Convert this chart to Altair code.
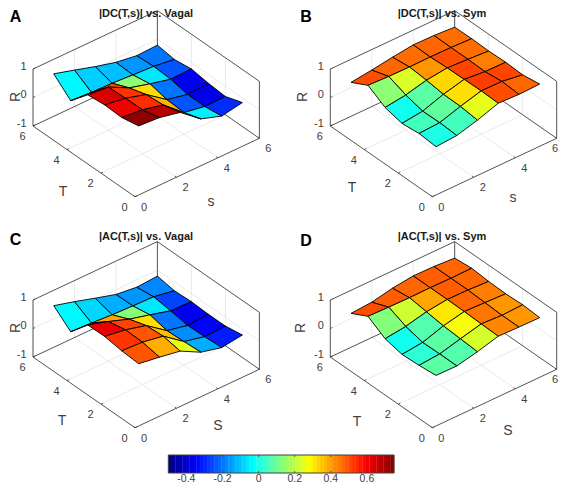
import altair as alt

# Surface values R[T-1][s-1], T and s run 1..6
R_A = [[.73,.68,.52,-.05,-.29,-.16],[.61,.54,.37,-.24,-.37,-.36],[.64,.53,.32,-.2,-.36,-.31],
       [.58,.51,.14,-.06,-.24,-.22],[-.04,-.09,-.11,-.16,-.2,-.30],[.49,.28,.06,-.13,-.24,-.21]]
R_B = [[0,.05,.25,.5,.47,.49],[.05,.09,.32,.52,.51,.40],[-.01,.08,.33,.51,.44,.43],
       [.14,.235,.41,.5,.46,.41],[.5,.47,.46,.47,.46,.43],[.19,.28,.39,.48,.47,.42]]
R_C = [[.49,.38,.25,-.13,-.31,-.21],[.53,.49,.36,-.17,-.34,-.31],[.62,.51,.32,-.2,-.36,-.31],
       [.61,.39,.13,-.06,-.26,-.28],[-.04,-.08,-.13,-.16,-.18,-.31],[.46,.26,.04,-.17,-.26,-.21]]
R_D = [[.08,.07,.23,.43,.41,.40],[.02,.08,.27,.45,.41,.44],[-.01,.07,.31,.47,.44,.41],
       [.13,.22,.39,.48,.47,.43],[.5,.48,.47,.48,.47,.48],[.19,.24,.39,.48,.47,.42]]

titles = ["|DC(T,s)| vs. Vagal", "|DC(T,s)| vs. Sym", "|AC(T,s)| vs. Vagal", "|AC(T,s)| vs. Sym"]
letters = ["A", "B", "C", "D"]
surfaces = [R_A, R_B, R_C, R_D]
origins = [(135, 196.7), (432.3, 196.7), (135, 427.7), (432.3, 427.7)]
letter_pos = [(15.5, 17), (306, 17), (15.5, 240), (306, 241)]
title_pos = [(146, 13.5), (442, 13.5), (146, 237), (442, 237)]
t_title_pos = [(63, 192), (352, 188), (62, 421), (357, 422)]
s_title_pos = [(211, 202), (513, 198), (218, 426), (508, 431)]
r_title_pos = [(16, 97), (303, 97), (16, 328), (301, 328)]
s_names = ["s", "s", "S", "S"]

axis_ticks = [0, 2, 4, 6]
r_ticks = [-1, 0, 1]
cb_ticks = [-0.4, -0.2, 0, 0.2, 0.4, 0.6]
cb_labels = ["-0.4", "-0.2", "0", "0.2", "0.4", "0.6"]
C_MIN, C_MAX = -0.5, 0.75
CB_X0, CB_X1, CB_Y0, CB_Y1 = 168.3, 394.0, 455.0, 473.0
jet_stops = [0, .125, .375, .625, .875, 1]
jet_colors = ["#00007f", "#0000ff", "#00ffff", "#ffff00", "#ff0000", "#7f0000"]
color_scale = alt.Scale(domain=[C_MIN + f * (C_MAX - C_MIN) for f in jet_stops], range=jet_colors, interpolate="rgb")

AX = "#404040"
FONT = "Liberation Sans"
RIGHT_LIMIT = 555


def px(p):
    return [p[0] - 8, p[1] - 8]


def proj(o, T, s, r):
    return (o[0] - 17.0 * T + 20.73 * s, o[1] - 11.78 * T - 9.73 * s - 28.5 * (r + 1))


def line(pts):
    return {"type": "Feature", "geometry": {"type": "LineString", "coordinates": [px(p) for p in pts]}, "properties": {}}


def poly(pts, c):
    ring = [px(p) for p in pts]
    ring.append(ring[0])
    return {"type": "Feature", "geometry": {"type": "Polygon", "coordinates": [ring]}, "properties": {"c": c}}


grid, box, ticks, faces = [], [], [], []
tick_txt, r_txt, ax_title, head, letter_txt, r_title = [], [], [], [], [], []

for i, o in enumerate(origins):
    P = lambda T, s, r: proj(o, T, s, r)
    for v in [2, 4]:
        grid.append(line([P(v, 0, -1), P(v, 6, -1), P(v, 6, 1)]))
        grid.append(line([P(0, v, -1), P(6, v, -1), P(6, v, 1)]))
    grid.append(line([P(6, 0, 0), P(6, 6, 0), P(0, 6, 0)]))
    box += [line([P(0, 0, -1), P(6, 0, -1), P(6, 0, 1), P(6, 6, 1), P(0, 6, 1), P(0, 6, -1), P(0, 0, -1)]),
            line([P(6, 0, -1), P(6, 6, -1), P(0, 6, -1)]),
            line([P(6, 6, -1), P(6, 6, 1)])]
    for v in axis_ticks:
        ticks.append(line([P(v, 0, -1), P(v, 0.1, -1)]))
        ticks.append(line([P(0, v, -1), P(0.1, v, -1)]))
        a = P(v, 0, -1)
        tick_txt.append({"x": a[0] - 10.5 - 8, "y": a[1] + 11 - 8, "t": str(v)})
        b = P(0, v, -1)
        tick_txt.append({"x": min(b[0] + 9, RIGHT_LIMIT) - 8, "y": b[1] + 11 - 8, "t": str(v)})
    for v in r_ticks:
        ticks.append(line([P(6, 0, v), P(6, 0.1, v)]))
        a = P(6, 0, v)
        r_txt.append({"x": a[0] - 6.5 - 8, "y": a[1] - 2.5 - 8, "t": str(v)})
    R = surfaces[i]
    cells = []
    for t in range(5):
        for s in range(5):
            zs = [R[t][s], R[t][s + 1], R[t + 1][s + 1], R[t + 1][s]]
            T0, S0 = t + 1, s + 1
            depth = -0.477 * (T0 + .5) / 6 - 0.392 * (S0 + .5) / 6 + (sum(zs) / 4 + 1) / 2
            pts = [P(T0, S0, zs[0]), P(T0, S0 + 1, zs[1]), P(T0 + 1, S0 + 1, zs[2]), P(T0 + 1, S0, zs[3])]
            cells.append((depth, poly(pts, R[t][s])))
    cells.sort(key=lambda c: c[0])
    faces += [c[1] for c in cells]
    ax_title.append({"x": t_title_pos[i][0] - 8, "y": t_title_pos[i][1] - 8, "t": "T"})
    ax_title.append({"x": s_title_pos[i][0] - 8, "y": s_title_pos[i][1] - 8, "t": s_names[i]})
    r_title.append({"x": r_title_pos[i][0] - 8, "y": r_title_pos[i][1] - 8, "t": "R"})
    head.append({"x": title_pos[i][0] - 8, "y": title_pos[i][1] - 8, "t": titles[i]})
    letter_txt.append({"x": letter_pos[i][0] - 8, "y": letter_pos[i][1] - 8, "t": letters[i]})

# colour bar: MATLAB's 64 level jet map


def cb_x(v):
    return CB_X0 + (v - C_MIN) / (C_MAX - C_MIN) * (CB_X1 - CB_X0)


N = 64
cb = []
for k in range(N):
    v0 = C_MIN + k * (C_MAX - C_MIN) / N
    v1 = C_MIN + (k + 1) * (C_MAX - C_MIN) / N
    cb.append(poly([(cb_x(v0), CB_Y0), (cb_x(v1) + .3, CB_Y0), (cb_x(v1) + .3, CB_Y1), (cb_x(v0), CB_Y1)], (v0 + v1) / 2))
cb_box = [line([(CB_X0, CB_Y0), (CB_X1, CB_Y0), (CB_X1, CB_Y1), (CB_X0, CB_Y1), (CB_X0, CB_Y0)])]
cb_tick = []
cb_txt = []
for v, lab in zip(cb_ticks, cb_labels):
    cb_tick.append(line([(cb_x(v), CB_Y1), (cb_x(v), CB_Y1 - 2)]))
    cb_tick.append(line([(cb_x(v), CB_Y0), (cb_x(v), CB_Y0 + 2)]))
    cb_txt.append({"x": cb_x(v) - 8, "y": 478.5 - 8, "t": lab})

PROJ = dict(type="identity", scale=1, translate=[0, 0])


def lines(features, color, width):
    return alt.Chart(alt.Data(values=features)).mark_geoshape(filled=False, stroke=color, strokeWidth=width).project(**PROJ)


def fills(features, stroke, width):
    return (alt.Chart(alt.Data(values=features))
            .mark_geoshape(stroke=stroke, strokeWidth=width)
            .encode(color=alt.Color("properties.c:Q", scale=color_scale, legend=None))
            .project(**PROJ))


def text(rows, size, color, weight="normal", align="center", angle=0):
    return (alt.Chart(alt.Data(values=rows))
            .mark_text(font=FONT, fontSize=size, color=color, fontWeight=weight, align=align, baseline="middle", angle=angle)
            .encode(x=alt.X("x:Q", scale=None, axis=None), y=alt.Y("y:Q", scale=None, axis=None), text="t:N"))


chart = alt.layer(
    lines(grid, "#e4e4e4", 0.8),
    lines(box, AX, 0.9),
    lines(ticks, AX, 0.8),
    fills(faces, "#000000", 0.9),
    fills(cb, "transparent", 0),
    lines(cb_box, AX, 1),
    lines(cb_tick, AX, 0.8),
    text(tick_txt, 11, AX),
    text(r_txt, 11, AX, align="right"),
    text(ax_title, 14, AX),
    text(r_title, 14, AX, angle=270),
    text(head, 11, "#1a1a1a", weight="bold"),
    text(letter_txt, 16, "#000000", weight="bold"),
    text(cb_txt, 10.5, AX),
).properties(width=551, height=475, padding=0, autosize=alt.AutoSizeParams(type="none"), background="white"
).configure_view(strokeWidth=0)

chart.save("out.html", embed_options={"renderer": "svg", "actions": False})
